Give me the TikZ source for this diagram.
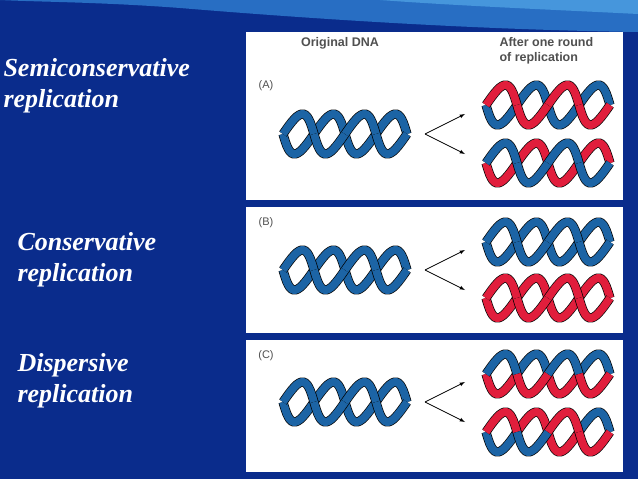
\documentclass[tikz,border=0pt]{standalone}
\usepackage{fontspec}
\setmainfont{Liberation Serif}
\setsansfont{Liberation Sans}
\definecolor{bg}{RGB}{10,44,140}
\definecolor{wave}{RGB}{40,110,195}
\definecolor{wave2}{RGB}{70,150,220}
\definecolor{dblue}{RGB}{28,100,165}
\definecolor{dred}{RGB}{225,30,60}
\definecolor{lbl}{RGB}{80,80,80}
\tikzset{
  panel/.style={fill=white,draw=none},
  side/.style={text=white,font=\bfseries\itshape\fontsize{26}{31}\selectfont,align=left,anchor=west},
  head/.style={text=lbl,font=\sffamily\bfseries\fontsize{12.5}{15}\selectfont,align=left},
  tag/.style={text=lbl,font=\sffamily\fontsize{11}{13}\selectfont},
  arr/.style={-latex,line width=0.8pt}
}
% strand: x0, y0, phase, colours (4 half periods)
\newcommand\strand[4]{%
  \foreach \cc [count=\k from 0] in {#4}{%
    \draw[black,line width=9.2pt,domain={\k*pi}:{(\k+1)*pi},samples=16,variable=\t]
      plot ({#1+8+\t/(4*pi)*124-4*sin((\t+#3) r)},{#2+20*sin((\t+#3) r)});
    \draw[\cc,line width=7.8pt,domain={\k*pi}:{(\k+1)*pi},samples=16,variable=\t]
      plot ({#1+8+\t/(4*pi)*124-4*sin((\t+#3) r)},{#2+20*sin((\t+#3) r)});
  }}
\newcommand\helixx[4]{\strand{#1}{#2}{0}{#3}\strand{#1}{#2}{pi}{#4}}
\begin{document}
\begin{tikzpicture}[x=1pt,y=-1pt]
\fill[bg] (0,0) rectangle (638,479);
\fill[wave] (0,0) -- (638,0) -- (638,32) .. controls (500,30) and (350,22) .. (180,8) .. controls (100,2) and (40,2) .. (0,0) -- cycle;
\fill[wave2] (380,0) -- (638,0) -- (638,14) .. controls (560,10) and (460,6) .. (380,0) -- cycle;
\fill[panel] (246,32) rectangle (623,200);
\fill[panel] (246,207) rectangle (623,333);
\fill[panel] (246,340) rectangle (623,472);
\node[side] (s1) at (0,86) {Semiconservative\\replication};
\node[side] (s2) at (14,260) {Conservative\\replication};
\node[side] (s3) at (14,381) {Dispersive\\replication};
\node[head] (h1) at (340,43) {Original DNA};
\node[head,anchor=west] (h2) at (496,51) {After one round\\of replication};
\node[tag] (ta) at (266,86) {(A)};
\node[tag] (tb) at (266,223) {(B)};
\node[tag] (tc) at (266,356) {(C)};
% A
\helixx{275}{134}{dblue,dblue,dblue,dblue}{dblue,dblue,dblue,dblue}
\helixx{478}{105}{dblue,dblue,dblue,dblue}{dred,dred,dred,dred}
\helixx{478}{163}{dred,dred,dred,dred}{dblue,dblue,dblue,dblue}
% B
\helixx{275}{270}{dblue,dblue,dblue,dblue}{dblue,dblue,dblue,dblue}
\helixx{478}{242}{dblue,dblue,dblue,dblue}{dblue,dblue,dblue,dblue}
\helixx{478}{298}{dred,dred,dred,dred}{dred,dred,dred,dred}
% C
\helixx{275}{402}{dblue,dblue,dblue,dblue}{dblue,dblue,dblue,dblue}
\helixx{478}{374}{dred,dblue,dred,dblue}{dblue,dred,dblue,dred}
\helixx{478}{432}{dblue,dred,dred,dblue}{dred,dblue,dred,dred}
% arrows
\foreach \y/\n in {134/a,270/b,402/c}{
  \coordinate (v\n) at (425,\y);
  \coordinate (u\n) at (465,\y-20);
  \coordinate (d\n) at (465,\y+20);
  \draw[arr] (v\n) -- (u\n);
  \draw[arr] (v\n) -- (d\n);
}
\end{tikzpicture}
\end{document}
